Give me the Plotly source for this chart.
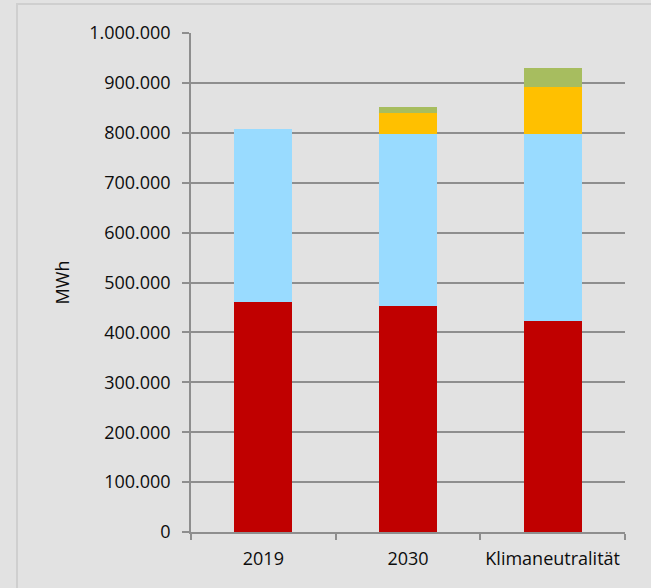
import plotly.graph_objects as go

# Categories and stacked series values (MWh)
categories = ["2019", "2030", "Klimaneutralität"]
series_red = [460000, 453000, 422000]
series_blue = [348000, 344000, 375000]
series_yellow = [0, 43000, 95000]
series_green = [0, 12500, 38000]

series_names = ["Segment rot", "Segment hellblau", "Segment gelb", "Segment grün"]
series_colors = ["#c00000", "#99dbff", "#ffc000", "#a7bd5f"]
y_ticks = list(range(0, 1000001, 100000))

FONT = "Open Sans"
GRID = "#8e8e8e"
BG = "#e2e2e2"
TEXT = "#0d0d0d"

fig = go.Figure()
for name, values, color in zip(series_names,
                               [series_red, series_blue, series_yellow, series_green],
                               series_colors):
    fig.add_trace(go.Bar(
        x=categories, y=values, name=name,
        marker=dict(color=color, line=dict(width=0)),
        showlegend=False,
    ))

fig.update_layout(
    width=651, height=588,
    margin=dict(l=191, r=26, t=33, b=56),
    barmode="stack", bargap=0.6,
    paper_bgcolor=BG, plot_bgcolor=BG,
    separators=",.",
    font=dict(family=FONT, size=18, color=TEXT),
    xaxis=dict(
        type="category", tickson="boundaries",
        ticks="outside", ticklen=6, tickcolor=GRID, tickwidth=1.5,
        showline=True, linecolor=GRID, linewidth=1.5,
        showgrid=False, tickfont=dict(size=18, color=TEXT),
        ticklabelstandoff=10,
    ),
    yaxis=dict(
        range=[0, 1000000], tickvals=y_ticks, tickformat=",d",
        ticks="outside", ticklen=7, tickcolor=GRID, tickwidth=1.5,
        showline=True, linecolor=GRID, linewidth=1.5,
        showgrid=True, gridcolor=GRID, gridwidth=1.5,
        zeroline=False, tickfont=dict(size=18, color=TEXT),
        ticklabelstandoff=8,
    ),
    annotations=[dict(
        text="MWh", textangle=-90, xref="paper", yref="paper",
        x=-0.2975, y=0.5, xanchor="center", yanchor="middle",
        showarrow=False, font=dict(family=FONT, size=18, color=TEXT),
    )],
    shapes=[dict(
        type="rect", xref="paper", yref="paper",
        x0=-0.4009, x1=1.2, y0=-0.3, y1=1.0582,
        line=dict(color="#cfcfcf", width=2), fillcolor="rgba(0,0,0,0)",
        layer="below",
    )],
)

fig.write_html("out.html")
